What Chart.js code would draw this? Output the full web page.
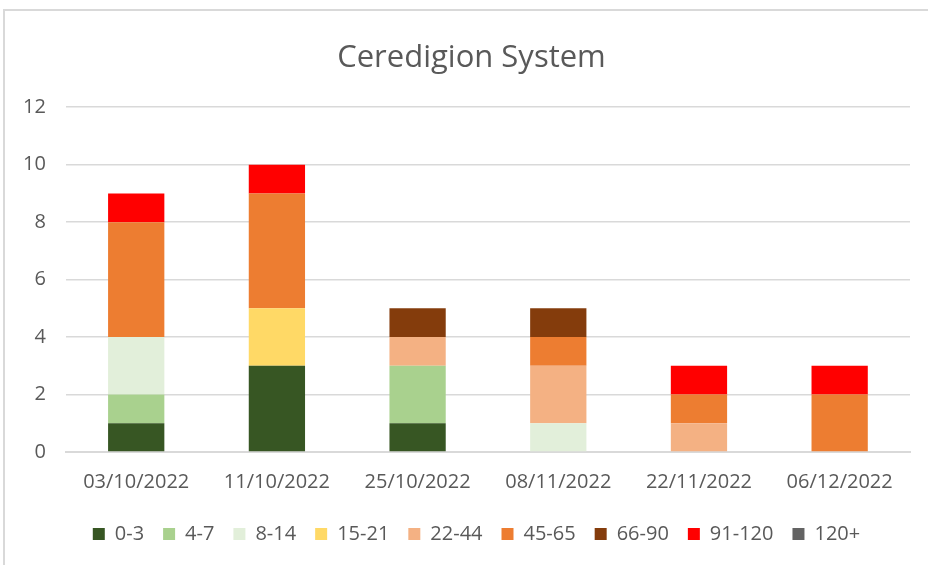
<!DOCTYPE html>
<html><head><meta charset="utf-8">
<script src="https://cdn.jsdelivr.net/npm/chart.js@4"></script>
<style>
html,body{margin:0;padding:0;background:#fff;}
#wrap{position:absolute;left:0;top:0;width:928px;height:565px;}
#frame{position:absolute;left:3px;top:9px;width:940px;height:600px;border-top:2px solid #d9d9d9;border-left:2px solid #d9d9d9;box-sizing:border-box;}
canvas{position:absolute;left:0;top:0;}
</style></head><body>
<div id="wrap"><div id="frame"></div><canvas id="c" width="928" height="565"></canvas></div>
<script>
const categories = ["03/10/2022","11/10/2022","25/10/2022","08/11/2022","22/11/2022","06/12/2022"];
const seriesNames = ["0-3","4-7","8-14","15-21","22-44","45-65","66-90","91-120","120+"];
const s0_3    = [1,3,1,0,0,0];
const s4_7    = [1,0,2,0,0,0];
const s8_14   = [2,0,0,1,0,0];
const s15_21  = [0,2,0,0,0,0];
const s22_44  = [0,0,1,2,1,0];
const s45_65  = [4,4,0,1,1,2];
const s66_90  = [0,0,1,1,0,0];
const s91_120 = [1,1,0,0,1,1];
const s120p   = [0,0,0,0,0,0];
const yTicks = [0,2,4,6,8,10,12];

const seriesValues = [s0_3,s4_7,s8_14,s15_21,s22_44,s45_65,s66_90,s91_120,s120p];
const colors = ["#375623","#a9d18e","#e2efda","#ffd966","#f4b183","#ed7d31","#843c0c","#ff0000","#636363"];

const ds = seriesNames.map((n,i)=>({label:n,data:seriesValues[i],backgroundColor:colors[i],borderWidth:0,barPercentage:0.8,categoryPercentage:0.5,stack:'a'}));

const boxShift = {
 id:'boxShift',
 afterLayout(chart){
  const l = chart.legend, t = chart.titleBlock;
  if(l){ l.top -= 7; l.bottom -= 7; l.left += 20; l.right += 20; }
  if(t){ t.left += 15; t.right += 15; }
 }
};

new Chart(document.getElementById('c'),{
 type:'bar',
 data:{labels:categories,datasets:ds},
 plugins:[boxShift],
 options:{
  responsive:false,animation:false,
  layout:{padding:{left:3,right:18,top:40,bottom:4}},
  plugins:{
   title:{display:true,text:"Ceredigion System",color:"#595959",font:{family:"Open Sans",size:31,weight:'normal'},padding:{top:0,bottom:30}},
   legend:{position:'bottom',labels:{color:"#595959",font:{family:"Open Sans",size:20},boxWidth:12,boxHeight:12,padding:19}},
   tooltip:{enabled:false}
  },
  scales:{
   x:{stacked:true,grid:{display:false,drawTicks:false},border:{color:"#d9d9d9",width:2},ticks:{color:"#595959",font:{family:"Open Sans",size:20},padding:18,maxRotation:0}},
   y:{stacked:true,min:0,max:12,afterBuildTicks:(a)=>{a.ticks=yTicks.map(v=>({value:v}));},grid:{color:"#d9d9d9",lineWidth:1.5,drawTicks:false},border:{display:false},ticks:{color:"#595959",font:{family:"Open Sans",size:20},padding:20}}
  }
 }
});
</script></body></html>
